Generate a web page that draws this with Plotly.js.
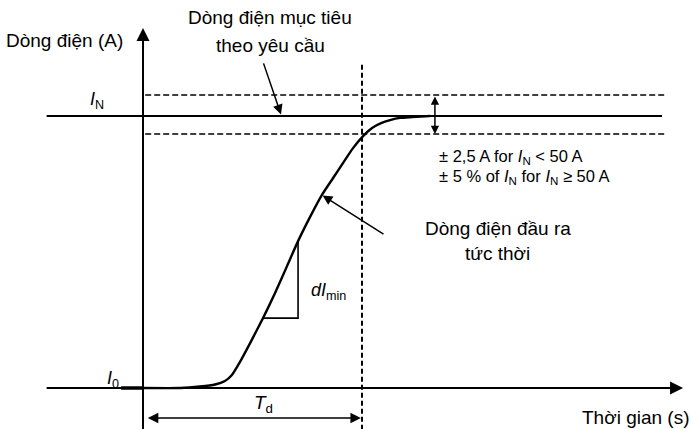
<!DOCTYPE html>
<html>
<head>
<meta charset="utf-8">
<script src="https://cdn.plot.ly/plotly-3.0.1.min.js"></script>
<style>html,body{margin:0;padding:0;background:#fff;}#chart{width:693px;height:429px;}</style>
</head>
<body>
<div id="chart"></div>
<script>
// ---- Data (schematic units: time in s-units, current in % of I_N) ----
const timeS    = [0, 1.69, 2.6, 3.29, 3.74, 4.06, 4.43, 4.89, 5.48, 6.03, 6.58, 7.08, 7.63, 8.17, 8.68, 9.13, 9.59, 10.05, 10.46, 10.87, 11.28, 11.74, 12.28, 13.1];
const currentA = [0, 0, 0.55, 1.3, 2.6, 4.8, 9.6, 16.5, 25.7, 34.9, 44.9, 54.0, 62.9, 71.0, 77.2, 82.7, 88.2, 92.6, 95.6, 97.4, 98.5, 99.3, 99.6, 100];
const I0 = 0;
const IN = 100;
const bandUpper = 107.7;
const bandLower = 93.4;
const Td = 10;
const slopeT = [5.48, 7.08, 7.08];
const slopeI = [25.7, 25.7, 54.0];
const lineStartT = -4.4;
const lineEndT = 23.7;
const axisEndT = 24.66;
const axisTopI = 132.4;
const axisBottomI = -15.1;

// ---- Styling / layout ----
const FONT = 'Liberation Sans, Arial, Helvetica, sans-serif';
const ink = '#000';

const traces = [
  {x: timeS, y: currentA, mode: 'lines', line: {color: ink, width: 2.4, shape: 'spline', smoothing: 0.5}, hoverinfo: 'skip'},
  {x: slopeT, y: slopeI, mode: 'lines', line: {color: ink, width: 1.6}, hoverinfo: 'skip'},
  {x: [lineStartT, lineEndT], y: [IN, IN], mode: 'lines', line: {color: ink, width: 2}, hoverinfo: 'skip'},
  {x: [0.1, lineEndT + 0.1], y: [bandUpper, bandUpper], mode: 'lines', line: {color: ink, width: 1.6, dash: '6px,3px'}, hoverinfo: 'skip'},
  {x: [0.1, lineEndT + 0.1], y: [bandLower, bandLower], mode: 'lines', line: {color: ink, width: 1.6, dash: '6px,3px'}, hoverinfo: 'skip'},
  {x: [Td, Td], y: [118.8, axisBottomI], mode: 'lines', line: {color: ink, width: 2, dash: '5px,3px'}, hoverinfo: 'skip'},
  {x: [lineStartT, axisEndT - 0.5], y: [I0, I0], mode: 'lines', line: {color: ink, width: 2}, hoverinfo: 'skip'},
  {x: [-1.0, 0], y: [I0, I0], mode: 'lines', line: {color: ink, width: 3.5}, hoverinfo: 'skip'},
  {x: [0, 0], y: [axisBottomI, axisTopI - 2], mode: 'lines', line: {color: ink, width: 2}, hoverinfo: 'skip'}
];

function arrow(x, y, ax, ay, opts) {
  return Object.assign({x: x, y: y, ax: ax, ay: ay, xref: 'x', yref: 'y', axref: 'x', ayref: 'y',
    text: '', showarrow: true, arrowhead: 2, arrowsize: 1.2, arrowwidth: 1.6, arrowcolor: ink}, opts || {});
}
function label(x, y, text, size, xanchor, opts) {
  return Object.assign({x: x, y: y, xref: 'x', yref: 'y', text: text, showarrow: false,
    xanchor: xanchor || 'center', yanchor: 'middle', font: {family: FONT, size: size, color: ink}}, opts || {});
}

const annotations = [
  // axes arrowheads
  arrow(axisEndT, I0, axisEndT - 1.2, I0, {arrowwidth: 2, arrowsize: 1.3}),
  arrow(0, axisTopI, 0, axisTopI - 6, {arrowwidth: 2, arrowsize: 1.3}),
  // Td double arrow
  arrow(Td - 0.05, -11.0, 0.15, -11.0, {arrowside: 'end+start', arrowwidth: 1.5, arrowsize: 1.4}),
  // band double arrow
  arrow(13.33, bandLower, 13.33, bandUpper, {arrowside: 'end+start', arrowwidth: 1.5, arrowsize: 1.1}),
  // pointer to target current
  arrow(6.3, 100.6, 5.48, 119.9, {arrowwidth: 1.5, arrowsize: 1.3}),
  // pointer to output current
  arrow(8.2, 70.8, 11.05, 56.2, {arrowwidth: 1.5, arrowsize: 1.3}),
  // texts
  label(-0.82, 127.6, 'Dòng điện (A)', 19, 'right'),
  label(5.8, 136.2, 'Dòng điện mục tiêu', 19),
  label(5.8, 126.0, 'theo yêu cầu', 19),
  label(-2.1, 105.8, '<i>I</i><sub>N</sub>', 18),
  label(-1.35, 3.2, '<i>I</i><sub>0</sub>', 18),
  label(13.42, 84.9, '± 2,5 A for <i>I</i><sub>N</sub> &lt; 50 A', 16.5, 'left'),
  label(13.42, 77.5, '± 5 % of <i>I</i><sub>N</sub> for <i>I</i><sub>N</sub> ≥ 50 A', 16.5, 'left'),
  label(16.2, 58.8, 'Dòng điện đầu ra', 19),
  label(16.2, 49.6, 'tức thời', 19),
  label(7.6, 35.3, '<i>dI</i><sub>min</sub>', 18, 'left'),
  label(5.48, -6.0, '<i>T</i><sub>d</sub>', 19),
  label(25.05, -11.0, 'Thời gian (s)', 19, 'right')
];

const layout = {
  width: 693, height: 429,
  margin: {l: 0, r: 0, t: 0, b: 0, pad: 0},
  paper_bgcolor: '#fff', plot_bgcolor: '#fff',
  showlegend: false,
  xaxis: {range: [-6.53, 25.114], visible: false, fixedrange: true},
  yaxis: {range: [-15.07, 142.65], visible: false, fixedrange: true},
  annotations: annotations,
  font: {family: FONT}
};

Plotly.newPlot('chart', traces, layout, {staticPlot: true, displayModeBar: false});
</script>
</body>
</html>
